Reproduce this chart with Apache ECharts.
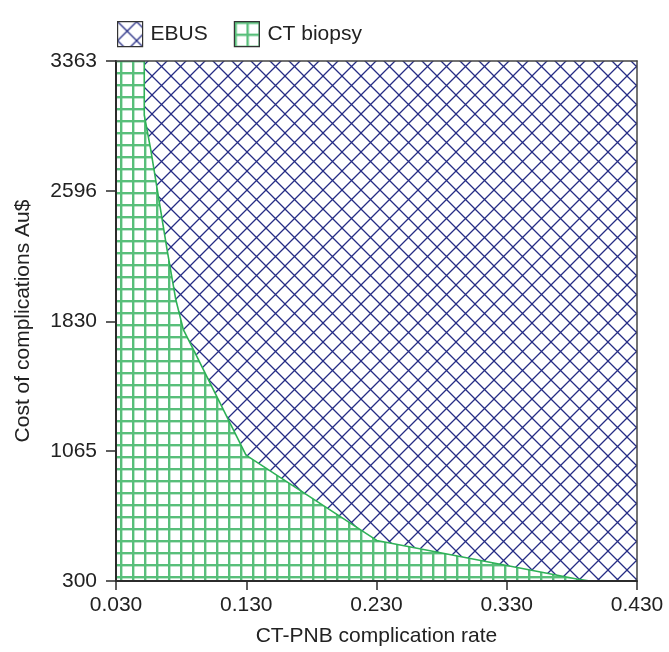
<!DOCTYPE html>
<html>
<head>
<meta charset="utf-8">
<script src="https://cdn.jsdelivr.net/npm/echarts@6/dist/echarts.min.js"></script>
<style>
html,body{margin:0;padding:0;background:#fff;}
#chart{width:669px;height:652px;}
</style>
</head>
<body>
<div id="chart"></div>
<script>
// Boundary between the preferred strategies (CT-PNB complication rate vs cost)
var boundaryRate = [0.030, 0.0517, 0.0517, 0.0567, 0.0692, 0.0759, 0.0817, 0.0881, 0.1298, 0.2302, 0.3838, 0.3940, 0.430];
var boundaryCost = [3363, 3363, 3045, 2840, 2252, 1958, 1781, 1683, 1041, 539, 312, 300, 300];
var xTicks = [0.030, 0.130, 0.230, 0.330, 0.430];
var yTicks = [300, 1065, 1830, 2596, 3363];
var seriesNames = ['EBUS', 'CT biopsy'];

function hatchPattern() {
  var s = 19, c = document.createElement('canvas');
  c.width = s; c.height = s;
  var g = c.getContext('2d');
  g.strokeStyle = '#262d85';
  g.lineWidth = 1.3;
  g.beginPath();
  [-s, 0, s].forEach(function (k) {
    g.moveTo(k - 3, -3); g.lineTo(k + s + 3, s + 3);
    g.moveTo(k - 3, s + 3); g.lineTo(k + s + 3, -3);
  });
  g.stroke();
  return c;
}
function gridPattern() {
  var s = 12, c = document.createElement('canvas');
  c.width = s; c.height = s;
  var g = c.getContext('2d');
  g.fillStyle = '#58bf7a';
  g.fillRect(0, 0, 2.4, s);
  g.fillRect(0, 0, s, 2.4);
  return c;
}
var ebusFill = { image: hatchPattern(), repeat: 'repeat' };
var ctFill = { image: gridPattern(), repeat: 'repeat' };

var pts = boundaryRate.map(function (r, i) { return [r, boundaryCost[i]]; });
var linePts = pts.slice(1, pts.length - 1);

var font = 'Liberation Sans, Arial, Helvetica, sans-serif';
var chart = echarts.init(document.getElementById('chart'), null, { renderer: 'canvas' });
chart.setOption({
  backgroundColor: '#fff',
  animation: false,
  textStyle: { fontFamily: font },
  legend: {
    left: 112, top: 16,
    itemWidth: 25, itemHeight: 25, itemGap: 26,
    textStyle: { fontSize: 21, color: '#222', fontFamily: font, padding: [0, 0, 0, 3] },
    data: [
      { name: seriesNames[0], icon: 'rect', itemStyle: { color: ebusFill, borderColor: '#333', borderWidth: 1.2 } },
      { name: seriesNames[1], icon: 'rect', itemStyle: { color: ctFill, borderColor: '#333', borderWidth: 1.2 } }
    ]
  },
  grid: { left: 116, right: 32, top: 61, bottom: 70, show: false },
  xAxis: [{
    type: 'value', min: 0.03, max: 0.43, z: 5,
    name: 'CT-PNB complication rate', nameLocation: 'middle', nameGap: 45,
    nameTextStyle: { fontSize: 21, color: '#222', fontFamily: font },
    axisLine: { show: true, lineStyle: { color: '#2b2b2b', width: 1.8 } },
    axisTick: { show: true, inside: false, length: 9, customValues: xTicks, lineStyle: { color: '#2b2b2b', width: 1.5 } },
    axisLabel: { customValues: xTicks, margin: 14, fontSize: 21, color: '#222', fontFamily: font,
      formatter: function (v) { return v.toFixed(3); } },
    splitLine: { show: false }
  }, {
    type: 'value', position: 'top', min: 0.03, max: 0.43, z: 5,
    axisLine: { show: true, lineStyle: { color: '#444', width: 1.5 } },
    axisTick: { show: false }, axisLabel: { show: false }, splitLine: { show: false }
  }],
  yAxis: [{
    type: 'value', min: 300, max: 3363, z: 5,
    name: 'Cost of complications Au$', nameLocation: 'middle', nameGap: 82,
    nameTextStyle: { fontSize: 21, color: '#222', fontFamily: font },
    axisLine: { show: true, lineStyle: { color: '#2b2b2b', width: 2 } },
    axisTick: { show: true, inside: false, length: 10, customValues: yTicks, lineStyle: { color: '#2b2b2b', width: 1.5 } },
    axisLabel: { customValues: yTicks, margin: 19, fontSize: 21, color: '#222', fontFamily: font,
      formatter: function (v) { return String(v); } },
    splitLine: { show: false }
  }, {
    type: 'value', position: 'right', min: 300, max: 3363, z: 5,
    axisLine: { show: true, lineStyle: { color: '#444', width: 1.5 } },
    axisTick: { show: false }, axisLabel: { show: false }, splitLine: { show: false }
  }],
  series: [{
    name: seriesNames[0], type: 'line', data: pts, showSymbol: false, symbol: 'none',
    lineStyle: { width: 0 }, areaStyle: { color: ebusFill, opacity: 1, origin: 'end' },
    itemStyle: { color: ebusFill }, z: 1, silent: true
  }, {
    name: seriesNames[1], type: 'line', data: pts, showSymbol: false, symbol: 'none',
    lineStyle: { width: 0 }, areaStyle: { color: ctFill, opacity: 1, origin: 'start' },
    itemStyle: { color: ctFill }, z: 1, silent: true
  }, {
    name: 'boundary', type: 'line', data: linePts, showSymbol: false, symbol: 'none',
    lineStyle: { width: 1.6, color: '#2fb157' }, z: 3, silent: true
  }]
});
</script>
</body>
</html>
